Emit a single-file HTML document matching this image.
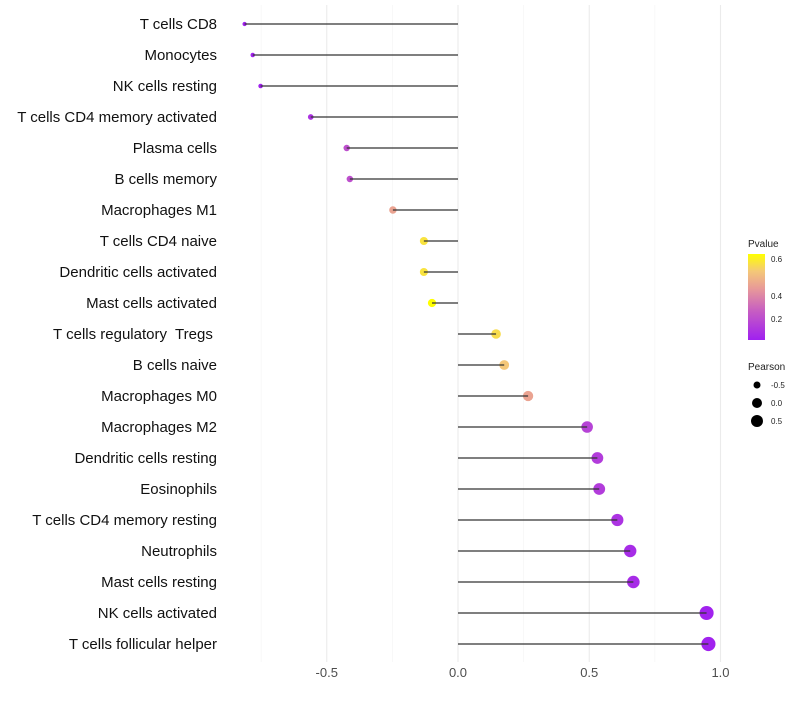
<!DOCTYPE html>
<html><head><meta charset="utf-8"><style>
body{margin:0;background:#fff;font-family:"Liberation Sans",sans-serif}
</style></head><body>
<svg id="chart" width="800" height="700" xmlns="http://www.w3.org/2000/svg">
<defs><linearGradient id="pg" x1="0" y1="1" x2="0" y2="0">
<stop offset="0" stop-color="#a020f0"/><stop offset="0.35" stop-color="#c860c0"/><stop offset="0.6" stop-color="#e89a98"/><stop offset="0.8" stop-color="#f4c878"/><stop offset="1" stop-color="#ffff00"/></linearGradient></defs>
<g id="grid"></g><g id="dots"></g><g id="marks"></g><g id="labels"></g>
<g font-size="10" fill="#222">
<text x="748" y="247">Pvalue</text>
<rect x="748" y="254" width="17" height="86" fill="url(#pg)"/>
<text x="771" y="262" font-size="8">0.6</text><text x="771" y="299" font-size="8">0.4</text><text x="771" y="322" font-size="8">0.2</text>
</g>
<g font-size="10" fill="#222">
<text x="748" y="370">Pearson</text>
<circle cx="757" cy="385" r="3.5" fill="#000"/><text x="771" y="388" font-size="8">-0.5</text>
<circle cx="757" cy="403" r="5" fill="#000"/><text x="771" y="406" font-size="8">0.0</text>
<circle cx="757" cy="421" r="6" fill="#000"/><text x="771" y="424" font-size="8">0.5</text>
</g>
</svg>
<script>
const categories=["T cells CD8","Monocytes","NK cells resting","T cells CD4 memory activated","Plasma cells","B cells memory","Macrophages M1","T cells CD4 naive","Dendritic cells activated","Mast cells activated","T cells regulatory  Tregs ","B cells naive","Macrophages M0","Macrophages M2","Dendritic cells resting","Eosinophils","T cells CD4 memory resting","Neutrophils","Mast cells resting","NK cells activated","T cells follicular helper"];
const pearson=[-0.813,-0.782,-0.752,-0.561,-0.424,-0.412,-0.248,-0.130,-0.130,-0.099,0.145,0.176,0.267,0.492,0.531,0.538,0.607,0.656,0.668,0.947,0.954];
const pvalue=[0.01,0.01,0.01,0.08,0.2,0.2,0.5,0.7,0.7,0.78,0.68,0.62,0.5,0.15,0.12,0.12,0.08,0.05,0.05,0.01,0.01];
const xTicks=[-0.5,0,0.5,1.0];
const xTickLabels=["-0.5","0.0","0.5","1.0"];
const NS="http://www.w3.org/2000/svg";
const x=v=>458+v*262.5, y=i=>24+i*31;
function mk(t,a,p){const e=document.createElementNS(NS,t);for(const k in a)e.setAttribute(k,a[k]);p.appendChild(e);return e;}
function lerp(a,b,t){return a.map((v,i)=>Math.round(v+(b[i]-v)*t));}
const stops=[[0,[160,32,240]],[0.35,[200,96,192]],[0.6,[232,154,152]],[0.8,[244,200,120]],[1,[255,255,0]]];
function col(p){let t=Math.max(0,Math.min(1,p/0.78));for(let i=1;i<stops.length;i++){if(t<=stops[i][0]){const c=lerp(stops[i-1][1],stops[i][1],(t-stops[i-1][0])/(stops[i][0]-stops[i-1][0]));return`rgb(${c})`;}}return"rgb(255,255,0)";}
const grid=document.getElementById("grid"),marks=document.getElementById("marks"),dots=document.getElementById("dots"),labels=document.getElementById("labels");
[-0.75,-0.25,0.25,0.75].forEach(v=>mk("line",{x1:x(v),x2:x(v),y1:5,y2:662,stroke:"#f2f2f2","stroke-width":0.6},grid));
xTicks.forEach((v,i)=>{mk("line",{x1:x(v),x2:x(v),y1:5,y2:662,stroke:"#ebebeb","stroke-width":1.1},grid);
const t=mk("text",{x:x(v),y:677,"text-anchor":"middle","font-size":"13",fill:"#4d4d4d"},labels);t.textContent=xTickLabels[i];

});
categories.forEach((c,i)=>{
const t=mk("text",{x:217,y:y(i)+5,"text-anchor":"end","font-size":"15",fill:"#111","xml:space":"preserve"},labels);t.style.whiteSpace="pre";t.textContent=c;


const d=mk("circle",{cx:x(pearson[i]),cy:y(i),r:Math.max(1.5,4.4+2.8*pearson[i]),fill:col(pvalue[i])},dots);


const l=mk("line",{x1:x(0),x2:x(pearson[i]),y1:y(i),y2:y(i),stroke:"#333","stroke-width":1.2},marks);

});
</script>
</body></html>
